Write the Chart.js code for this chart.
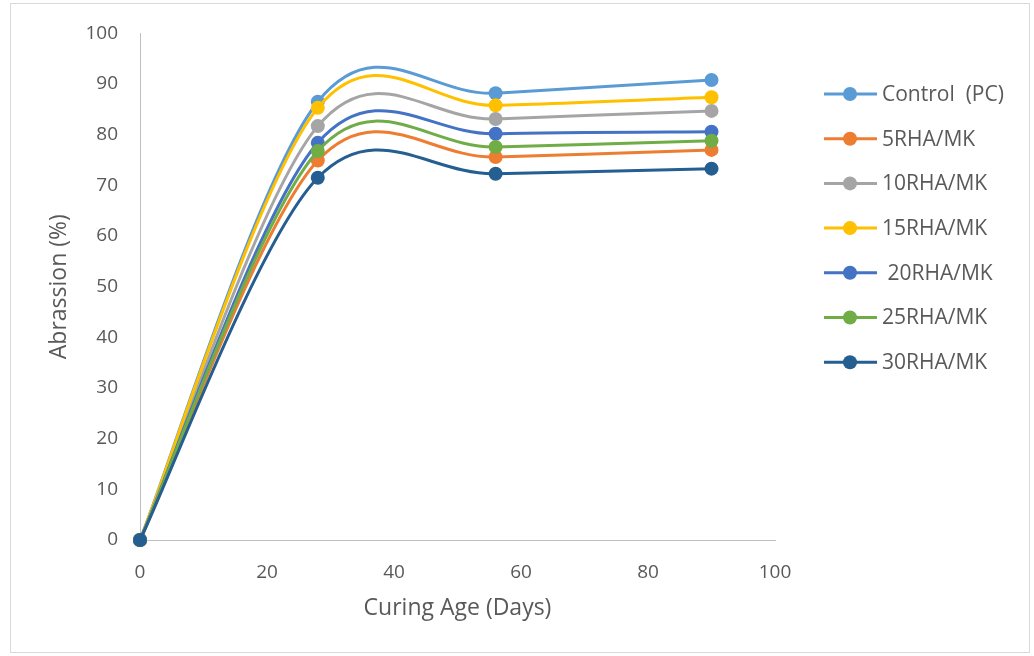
<!DOCTYPE html>
<html>
<head>
<meta charset="utf-8">
<script src="https://cdn.jsdelivr.net/npm/chart.js@4"></script>
<style>
  body { margin: 0; background: #fff; }
  canvas { display: block; }
</style>
</head>
<body>
<canvas id="myChart" width="1034" height="656"></canvas>
<script>
var curingDays = [0, 28, 56, 90];
var seriesNames = ["Control  (PC)", "5RHA/MK", "10RHA/MK", "15RHA/MK", " 20RHA/MK", "25RHA/MK", "30RHA/MK"];
var controlPC = [0, 86.5, 88.2, 90.8];
var rha5 = [0, 74.9, 75.6, 77.0];
var rha10 = [0, 81.7, 83.1, 84.7];
var rha15 = [0, 85.3, 85.8, 87.4];
var rha20 = [0, 78.4, 80.2, 80.6];
var rha25 = [0, 76.8, 77.6, 78.8];
var rha30 = [0, 71.5, 72.3, 73.3];
var lineColors = ["#5B9BD5", "#ED7D31", "#A5A5A5", "#FFC000", "#4472C4", "#70AD47", "#255E91"];

var allSeries = [controlPC, rha5, rha10, rha15, rha20, rha25, rha30];
var font = "'Open Sans', 'Liberation Sans', sans-serif";

var datasets = allSeries.map(function (vals, i) {
    return {
        label: seriesNames[i],
        data: curingDays.map(function (d, j) { return { x: d, y: vals[j] }; }),
        borderColor: lineColors[i],
        backgroundColor: lineColors[i],
        borderWidth: 3,
        pointRadius: 7,
        pointHoverRadius: 7,
        pointBorderWidth: 0,
        tension: 0.4,
        clip: 10,
        order: allSeries.length - i
    };
});

// Excel style smoothing: control points at +-(next - prev)/6
var excelSmooth = {
    id: "excelSmooth",
    beforeDatasetDraw: function (chart, args) {
        var meta = args.meta;
        var line = meta.dataset;
        if (!line) return;
        line.updateControlPoints(chart.chartArea, "x");
        var pts = meta.data;
        for (var i = 0; i < pts.length; i++) {
            var prev = pts[Math.max(i - 1, 0)];
            var next = pts[Math.min(i + 1, pts.length - 1)];
            var dx = (next.x - prev.x) / 6;
            var dy = (next.y - prev.y) / 6;
            pts[i].cp1x = pts[i].x - dx;
            pts[i].cp1y = pts[i].y - dy;
            pts[i].cp2x = pts[i].x + dx;
            pts[i].cp2y = pts[i].y + dy;
        }
        line._path = undefined;
    }
};

// frame round the chart and the legend on the right
var extras = {
    id: "extras",
    beforeDraw: function (chart) {
        var ctx = chart.ctx;
        ctx.save();
        ctx.fillStyle = "#fff";
        ctx.fillRect(0, 0, chart.width, chart.height);
        ctx.strokeStyle = "#d9d9d9";
        ctx.lineWidth = 1;
        ctx.strokeRect(10.5, 3.5, 1019, 649);
        ctx.restore();
    },
    afterDraw: function (chart) {
        var ctx = chart.ctx;
        ctx.save();
        ctx.font = "21px " + font;
        ctx.textBaseline = "middle";
        for (var i = 0; i < seriesNames.length; i++) {
            var y = 94 + i * 44.7;
            ctx.strokeStyle = lineColors[i];
            ctx.lineWidth = 3;
            ctx.beginPath();
            ctx.moveTo(824, y);
            ctx.lineTo(877, y);
            ctx.stroke();
            ctx.fillStyle = lineColors[i];
            ctx.beginPath();
            ctx.arc(850, y, 7, 0, Math.PI * 2);
            ctx.fill();
            ctx.fillStyle = "#595959";
            ctx.fillText(seriesNames[i], 882, y + 1);
        }
        ctx.restore();
    }
};

new Chart("myChart", {
    type: "line",
    data: { datasets: datasets },
    plugins: [excelSmooth, extras],
    options: {
        responsive: false,
        animation: false,
        layout: { padding: { left: 10, right: 259, top: 31, bottom: 4 } },
        plugins: {
            legend: { display: false },
            tooltip: { enabled: false }
        },
        scales: {
            x: {
                type: "linear",
                min: 0,
                max: 100,
                ticks: { stepSize: 20, color: "#595959", font: { size: 19, family: font }, padding: 21 },
                grid: { display: false, drawTicks: false },
                border: { display: true, color: "#bfbfbf", width: 1 },
                title: { display: true, text: "Curing Age (Days)", color: "#595959", font: { size: 23, family: font }, padding: { bottom: 30 } },
                afterFit: function (s) { s.height = 112; }
            },
            y: {
                min: 0,
                max: 100,
                ticks: { stepSize: 10, color: "#595959", font: { size: 19, family: font }, padding: 22 },
                grid: { display: false, drawTicks: false },
                border: { display: true, color: "#bfbfbf", width: 1 },
                title: { display: true, text: "Abrassion (%)", color: "#595959", font: { size: 23, family: font }, padding: { top: 36 } },
                afterFit: function (s) { s.width = 130; }
            }
        }
    }
});
</script>
</body>
</html>
